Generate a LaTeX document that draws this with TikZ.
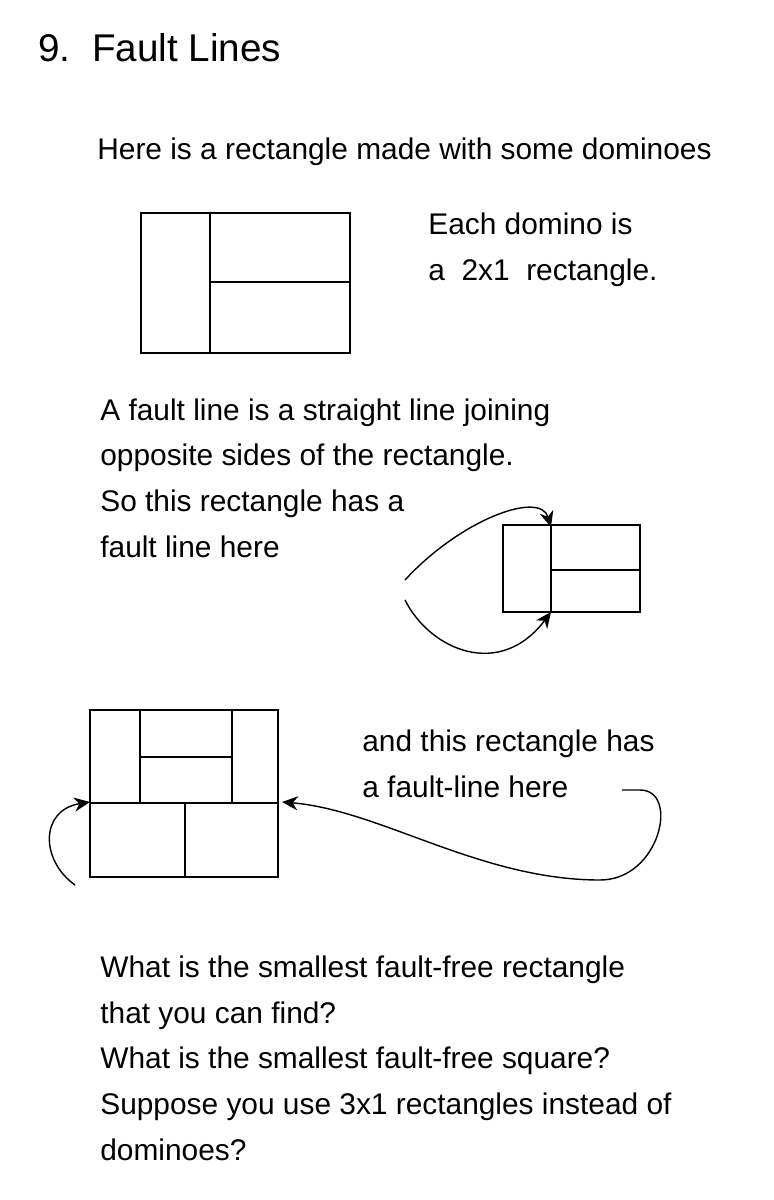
\documentclass[tikz,border=0pt]{standalone}
\usepackage{fontspec}
\setmainfont{Liberation Sans}
\usetikzlibrary{arrows.meta}
\begin{document}
\begin{tikzpicture}[x=0.02cm,y=-0.02cm,
  box/.style={line width=1pt},
  conn/.style={line width=0.8pt,-{Stealth[length=9pt,width=8pt]}},
  txt/.style={anchor=west,font=\fontsize{17}{26}\selectfont,align=left,inner sep=0pt}]
\useasboundingbox (0,0) rectangle (774,1200);
\node[txt,font=\fontsize{22}{26}\selectfont] (t) at (38,48) {9.\ \ \textsc{Fault Lines}};
\node[txt] (l1) at (97,152) {Here is a rectangle made with some dominoes};
\node[txt] (l2) at (428,250) {Each domino is\\a \ 2x1 \ rectangle.};
\node[txt] (l3) at (100,478) {A fault line is a straight line joining\\opposite sides of the rectangle.\\So this rectangle has a\\fault line here};
\node[txt] (l4) at (362,764) {and this rectangle has\\a fault-line here};
\node[txt] (l5) at (100,1058) {What is the smallest fault-free rectangle\\that you can find?\\What is the smallest fault-free square?\\Suppose you use 3x1 rectangles instead of\\dominoes?};
% rectangle 1
\draw[box] (141,213) rectangle (350,353) (210,213)--(210,353) (210,282)--(350,282);
% rectangle 2
\draw[box] (503,525) rectangle (640,612) (551,525)--(551,612) (551,570)--(640,570);
\coordinate (a1) at (551,527);
\coordinate (a2) at (551,612);
\draw[conn] (405,580) .. controls (460,520) and (540,490) .. (a1);
\draw[conn] (405,600) .. controls (430,650) and (500,680) .. (a2);
% rectangle 3
\draw[box] (90,710) rectangle (278,877) (140,710)--(140,803) (232,710)--(232,803)
  (140,757)--(232,757) (90,803)--(278,803) (185,803)--(185,877);
\coordinate (b1) at (90,802);
\coordinate (b2) at (282,802);
\draw[conn] (75,885) .. controls (40,860) and (40,810) .. (b1);
\draw[conn] (622,790) -- (640,790) .. controls (680,790) and (660,880) .. (600,880) .. controls (480,880) and (380,810) .. (b2);
\end{tikzpicture}
\end{document}
